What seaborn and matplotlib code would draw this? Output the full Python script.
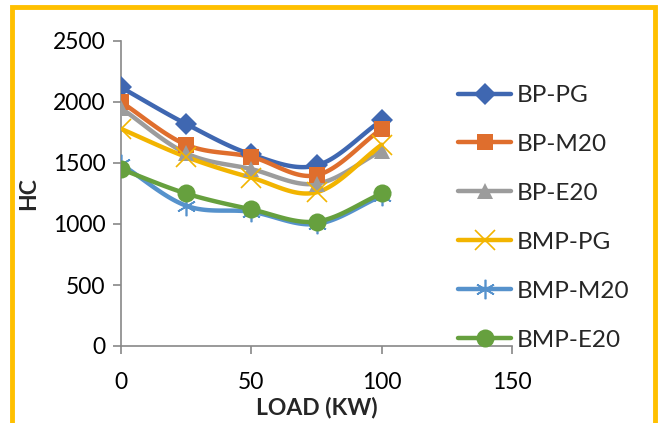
import numpy as np
import pandas as pd
import matplotlib
matplotlib.use("Agg")
import matplotlib.pyplot as plt
from matplotlib.lines import Line2D
from matplotlib.patches import Rectangle
import seaborn as sns

load = [0, 25, 50, 75, 100]
series_names = ["BP-PG", "BP-M20", "BP-E20", "BMP-PG", "BMP-M20", "BMP-E20"]
bp_pg = [2120, 1820, 1570, 1480, 1850]
bp_m20 = [2000, 1650, 1550, 1400, 1780]
bp_e20 = [1950, 1580, 1450, 1330, 1600]
bmp_pg = [1780, 1550, 1380, 1260, 1650]
bmp_m20 = [1490, 1150, 1100, 1000, 1230]
bmp_e20 = [1450, 1250, 1120, 1020, 1250]
values = [bp_pg, bp_m20, bp_e20, bmp_pg, bmp_m20, bmp_e20]

colors = ["#3F67B1", "#DF6E2D", "#9C9C9C", "#F2B400", "#5692CC", "#66A03E"]
markers = ["D", "s", "^", "x", (6, 2, 0), "o"]
msizes = [11, 12, 12, 14, 14, 13]

def smooth(xs, ys, n=30):
    xs = np.asarray(xs, float); ys = np.asarray(ys, float)
    px = np.concatenate([[2*xs[0]-xs[1]], xs, [2*xs[-1]-xs[-2]]])
    py = np.concatenate([[2*ys[0]-ys[1]], ys, [2*ys[-1]-ys[-2]]])
    ox, oy = [], []
    for i in range(1, len(px)-2):
        t = np.linspace(0, 1, n, endpoint=False)
        for arr, out in ((px, ox), (py, oy)):
            p0, p1, p2, p3 = arr[i-1], arr[i], arr[i+1], arr[i+2]
            c1 = p1 + (p2 - p0) / 6
            c2 = p2 - (p3 - p1) / 6
            out.extend((1-t)**3*p1 + 3*(1-t)**2*t*c1 + 3*(1-t)*t**2*c2 + t**3*p2)
    ox.append(xs[-1]); oy.append(ys[-1])
    return np.array(ox), np.array(oy)

rows = []
pts = []
for name, vals in zip(series_names, values):
    sx, sy = smooth(load, vals)
    rows.append(pd.DataFrame({"load": sx, "hc": sy, "series": name}))
    pts.append(pd.DataFrame({"load": load, "hc": vals, "series": name}))
curve = pd.concat(rows, ignore_index=True)
points = pd.concat(pts, ignore_index=True)

sns.set_theme(style="white")
plt.rcParams["font.family"] = ["Lato", "DejaVu Sans"]

fig = plt.figure(figsize=(6.58, 4.23), dpi=100)
ax = fig.add_axes([121/658, 1-346/423, (512-121)/658, (346-41)/423])

pal = dict(zip(series_names, colors))
sns.lineplot(data=curve, x="load", y="hc", hue="series", palette=pal, sort=False,
             estimator=None, linewidth=3.2, ax=ax, legend=False)
for name, c, m, ms in zip(series_names, colors, markers, msizes):
    d = points[points["series"] == name]
    filled = m not in ("x", (6, 2, 0))
    ax.plot(d["load"], d["hc"], linestyle="none", marker=m, markersize=ms,
            color=c, markeredgewidth=1.2 if not filled else 0, zorder=3)

ax.set_xlim(0, 150)
ax.set_ylim(0, 2500)
ax.set_xticks([0, 50, 100, 150])
ax.set_yticks([0, 500, 1000, 1500, 2000, 2500])
ax.tick_params(axis="both", labelsize=16.5, colors="#888888", labelcolor="black",
               length=6, width=1.2, direction="out", bottom=True, left=True)
ax.tick_params(axis="x", pad=13)
ax.tick_params(axis="y", pad=5)
for s in ["top", "right"]:
    ax.spines[s].set_visible(False)
for s in ["left", "bottom"]:
    ax.spines[s].set_color("#888888")
    ax.spines[s].set_linewidth(1.2)
ax.set_xlabel("LOAD (KW)", fontsize=16.5, fontweight="bold", labelpad=2)
ax.set_ylabel("HC", fontsize=16.5, fontweight="bold", labelpad=10)

handles = [Line2D([0], [0], color=c, lw=3.2, marker=m, markersize=ms,
                  markeredgewidth=1.2 if m in ("x", (6, 2, 0)) else 0)
           for c, m, ms in zip(colors, markers, msizes)]
fig.legend(handles, series_names, loc="upper left", bbox_to_anchor=(458/658, 1-85/423),
           frameon=False, fontsize=17.5, handlelength=2.2, labelspacing=1.15,
           handletextpad=0.2, borderpad=0, borderaxespad=0)

fig.patches.append(Rectangle((12/658, -0.05), (643)/658, 1-7/423+0.05,
                             transform=fig.transFigure, fill=False,
                             edgecolor="#FFC000", linewidth=3.5))

fig.savefig("out.png", dpi=100)
